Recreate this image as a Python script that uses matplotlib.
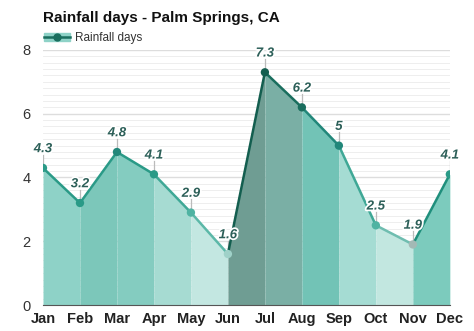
import matplotlib.pyplot as plt
import numpy as np
from matplotlib.patches import Patch
from matplotlib.lines import Line2D
import matplotlib.patheffects as pe

plt.rcParams['font.family'] = ['Liberation Sans', 'DejaVu Sans']

months = ['Jan', 'Feb', 'Mar', 'Apr', 'May', 'Jun', 'Jul', 'Aug', 'Sep', 'Oct', 'Nov', 'Dec']
rain_days = [4.3, 3.2, 4.8, 4.1, 2.9, 1.6, 7.3, 6.2, 5, 2.5, 1.9, 4.1]
labels = ['4.3', '3.2', '4.8', '4.1', '2.9', '1.6', '7.3', '6.2', '5', '2.5', '1.9', '4.1']

# fill colour of each month-to-month band
band_colors = ['#8ed2c7', '#7cc7ba', '#84ccc0', '#a6dbd2', '#c3e7e1', '#6f9d93',
               '#7aafa5', '#72c3b6', '#a5dcd3', '#c2e7e0', '#7ccbbd']
seg_colors = ['#2a9a87', '#2a9a87', '#2a9a87', '#3fa896', '#5cb8a8', '#135e4f',
              '#1a6e5e', '#22877a', '#3fa896', '#6fbdb0', '#1f8f7c']
dot_colors = ['#2a9a87', '#2a9a87', '#22877a', '#2a9a87', '#4fb3a2', '#9fd1c8',
              '#135e4f', '#1a6e5e', '#22877a', '#4fb3a2', '#a3b9b5', '#2a9a87']

fig = plt.figure(figsize=(4.74, 3.31), dpi=100)
ax = fig.add_axes([0.0907, 0.0785, 0.8583, 0.7705])

x = np.arange(len(months))
y = np.array(rain_days)

for i in range(len(months) - 1):
    ax.fill_between(x[i:i + 2], y[i:i + 2], 0, color=band_colors[i], lw=0, zorder=2)
    ax.plot(x[i:i + 2], y[i:i + 2], color=seg_colors[i], lw=1.8, zorder=4,
            solid_capstyle='round')

ax.scatter(x, y, s=36, c=dot_colors, zorder=5, lw=0)

for i in range(len(months)):
    ax.plot([x[i], x[i]], [y[i] + 0.12, y[i] + 0.42], color='#bbbbbb', lw=0.9, zorder=3)
    ax.text(x[i], y[i] + 0.4, labels[i], ha='center', va='bottom', fontsize=9.5,
            fontweight='bold', style='italic', color='#2c5f58', zorder=6,
            path_effects=[pe.withStroke(linewidth=2.5, foreground='white')])

ax.set_xlim(0, 11)
ax.set_ylim(0, 8)
ax.set_yticks([0, 2, 4, 6, 8])
ax.set_yticks(np.arange(0, 8.01, 0.2), minor=True)
ax.set_xticks(x)
ax.set_xticklabels(months, fontweight='bold', fontsize=10.5, color='#222222')
ax.tick_params(axis='y', which='both', length=0, labelsize=10.5, labelcolor='#333333', pad=9)
ax.tick_params(axis='x', length=0, pad=5)
ax.grid(axis='y', which='major', color='#dddddd', lw=1, zorder=1)
ax.grid(axis='y', which='minor', color='#ebebeb', lw=0.6, zorder=1)
for s in ['top', 'right', 'left']:
    ax.spines[s].set_visible(False)
ax.spines['bottom'].set_color('#555555')
ax.spines['bottom'].set_zorder(7)

fig.text(0.0907, 0.945, 'Rainfall days - Palm Springs, CA', fontsize=11,
         fontweight='bold', color='#111111', va='center')

handle = (Patch(color='#8ed2c7'), Line2D([], [], color='#1a6e5e', marker='o', ms=5, lw=1.8))
ax.legend([handle], ['Rainfall days'], loc='lower left', bbox_to_anchor=(-0.015, 0.995),
          frameon=False, fontsize=8.5, handlelength=2.2, borderaxespad=0.2,
          handletextpad=0.4, labelcolor='#333333')

fig.savefig('out.png', dpi=100)
